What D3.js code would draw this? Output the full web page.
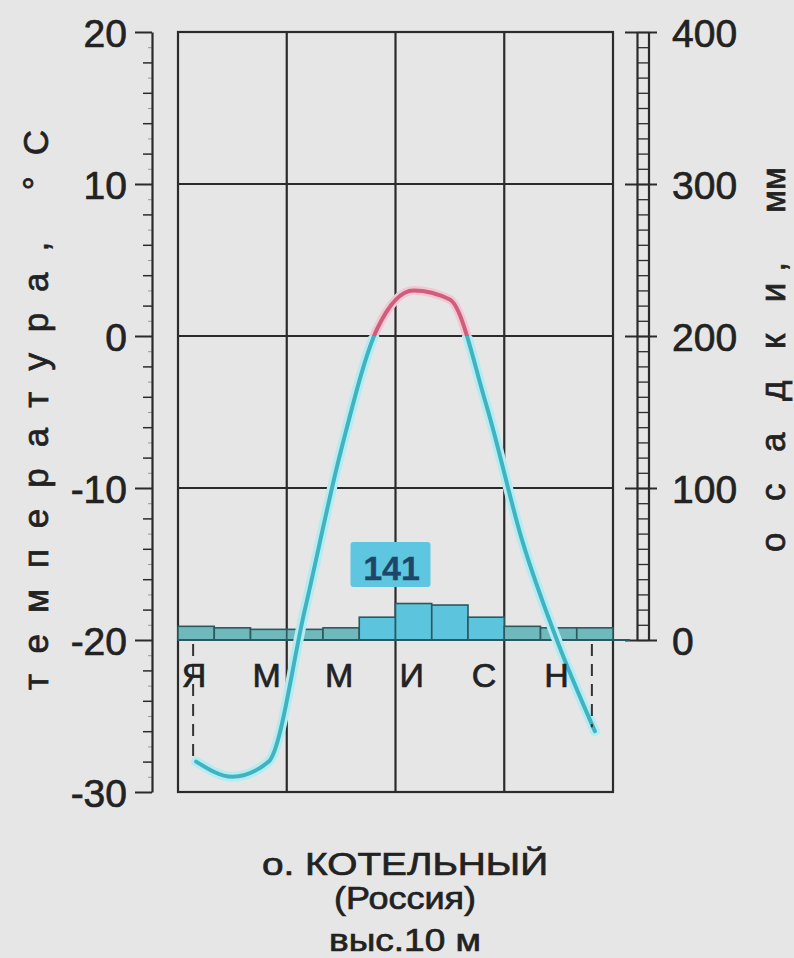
<!DOCTYPE html>
<html>
<head>
<meta charset="utf-8">
<script src="https://cdn.jsdelivr.net/npm/d3@7"></script>
<style>
  html, body { margin: 0; padding: 0; background: #e6e6e6; }
  svg { display: block; }
  text { font-family: "Liberation Sans", Arial, sans-serif; fill: #222; stroke: #222; stroke-width: 0.7px; }
</style>
</head>
<body>
<svg id="chart" width="794" height="958"></svg>
<script>
// ---- data ----
const months = ["Я", "Ф", "М", "А", "М", "И", "И", "А", "С", "О", "Н", "Д"];
const monthLabelIdx = [0, 2, 4, 6, 8, 10];
const temperature = [-28, -29, -28, -18, -7.5, 0.5, 3, 2.4, -4.5, -13.5, -20.3, -26];
const precipitation = [9, 8, 7, 7, 8, 15, 24, 23, 15, 9, 8, 8];
const annualPrecip = "141";
const tempTicks = [20, 10, 0, -10, -20, -30];
const precipTicks = [0, 100, 200, 300, 400];
const station = ["о. КОТЕЛЬНЫЙ", "(Россия)", "выс.10 м"];
const tempTitle = "температура, °С";
const precipTitleA = "о с а д к и,";
const precipTitleB = "мм";

(function () {
// ---- scales ----
const svg = d3.select("#chart");
const pL = 178, pR = 613, pT = 32, pB = 792;
const x = d3.scaleBand().domain(d3.range(12)).range([pL, pR]).padding(0);
const cx = i => x(i) + x.bandwidth() / 2;
const yT = d3.scaleLinear().domain([-30, 20]).range([pB, pT]);
const yP = d3.scaleLinear().domain([0, 400]).range([yT(-20), yT(20)]);
const ink = "#2b2b2b";

// ---- grid / frame ----
const g = svg.append("g");
g.selectAll("line.h").data([10, 0, -10]).join("line")
  .attr("x1", pL).attr("x2", pR)
  .attr("y1", d => yT(d)).attr("y2", d => yT(d))
  .attr("stroke", ink).attr("stroke-width", 2.2);
g.selectAll("line.v").data([3, 6, 9]).join("line")
  .attr("x1", d => x(d)).attr("x2", d => x(d))
  .attr("y1", pT).attr("y2", pB)
  .attr("stroke", ink).attr("stroke-width", 2.2);
g.append("rect").attr("x", pL).attr("y", pT)
  .attr("width", pR - pL).attr("height", pB - pT)
  .attr("fill", "none").attr("stroke", ink).attr("stroke-width", 2.2);

// ---- left axis (temperature) ----
const axL = svg.append("g").attr("transform", "translate(152,0)");
axL.call(d3.axisLeft(yT).tickValues(d3.range(-30, 21, 1).filter(d => d % 2 !== 0))
  .tickSize(4).tickSizeOuter(0).tickFormat(""))
  .call(a => a.selectAll("line").attr("stroke", "#999").attr("stroke-width", 1))
  .call(a => a.select(".domain").remove());
const axLm = svg.append("g").attr("transform", "translate(152,0)");
axLm.call(d3.axisLeft(yT).tickValues(d3.range(-30, 21, 2).filter(d => d % 10 !== 0))
  .tickSize(9).tickSizeOuter(0).tickFormat(""))
  .call(a => a.selectAll("line").attr("stroke", ink).attr("stroke-width", 1.5))
  .call(a => a.select(".domain").remove());
const axL2 = svg.append("g").attr("transform", "translate(152,0)");
axL2.call(d3.axisLeft(yT).tickValues(tempTicks).tickSize(17).tickSizeOuter(0).tickPadding(8)
  .tickFormat(d => d < 0 ? "-" + Math.abs(d) : String(d)))
  .call(a => a.select(".domain").attr("stroke", ink).attr("stroke-width", 2.2))
  .call(a => a.selectAll("line").attr("stroke", ink).attr("stroke-width", 2))
  .call(a => a.selectAll("text").attr("font-size", 39).attr("fill", "#222")
    .attr("font-family", "Liberation Sans, Arial, sans-serif").attr("dy", "0.36em"));

// ---- right axis (precipitation) ----
const axR = svg.append("g").attr("transform", "translate(637,0)");
axR.call(d3.axisRight(yP).tickValues(d3.range(0, 401, 10)).tickSize(12).tickSizeOuter(0).tickFormat(""))
  .call(a => a.selectAll("line").attr("stroke", ink).attr("stroke-width", 1.3))
  .call(a => a.select(".domain").attr("stroke", ink).attr("stroke-width", 2.2));
svg.append("line").attr("x1", 649).attr("x2", 649).attr("y1", yP(0)).attr("y2", yP(400))
  .attr("stroke", ink).attr("stroke-width", 2.2);
const axR2 = svg.append("g").attr("transform", "translate(625,0)");
axR2.call(d3.axisRight(yP).tickValues(precipTicks).tickSize(32).tickSizeOuter(0).tickPadding(15))
  .call(a => a.select(".domain").remove())
  .call(a => a.selectAll("line").attr("stroke", ink).attr("stroke-width", 2))
  .call(a => a.selectAll("text").attr("font-size", 39).attr("fill", "#222")
    .attr("font-family", "Liberation Sans, Arial, sans-serif").attr("dy", "0.36em"));

// ---- precipitation bars ----
svg.append("g").selectAll("rect").data(precipitation).join("rect")
  .attr("x", (d, i) => x(i)).attr("width", x.bandwidth())
  .attr("y", d => yP(d)).attr("height", d => yP(0) - yP(d))
  .attr("fill", d => d >= 12 ? "#5cc4dc" : "#6fb8bc")
  .attr("stroke", "#2c5860").attr("stroke-width", 1.6);
svg.append("line").attr("x1", pL).attr("x2", 630).attr("y1", yP(0)).attr("y2", yP(0))
  .attr("stroke", "#2c5860").attr("stroke-width", 2);

// ---- annual precipitation label ----
const bx = (x(5) + x(7)) / 2 - 5;
svg.append("rect").attr("x", bx - 40).attr("y", 542).attr("width", 80).attr("height", 45)
  .attr("fill", "#5ec6e0").attr("rx", 3);
svg.append("text").attr("x", bx + 1).attr("y", 580).attr("text-anchor", "middle")
  .attr("font-size", 34).attr("font-weight", "bold")
  .style("fill", "#1d4668").style("stroke", "#1d4668").style("stroke-width", "0.3px").text(annualPrecip);

// ---- temperature line ----
const line = d3.line().x((d, i) => cx(i)).y(d => yT(d)).curve(d3.curveMonotoneX);
const defs = svg.append("defs");
defs.append("clipPath").attr("id", "warm").append("rect")
  .attr("x", 0).attr("y", 0).attr("width", 794).attr("height", yT(0));
defs.append("clipPath").attr("id", "cold").append("rect")
  .attr("x", 0).attr("y", yT(0)).attr("width", 794).attr("height", 958);
const cold = svg.append("g").attr("clip-path", "url(#cold)");
cold.append("path").datum(temperature).attr("d", line).attr("fill", "none")
  .attr("stroke", "#b5ecf2").attr("stroke-width", 10).attr("stroke-linecap", "round");
cold.append("path").datum(temperature).attr("d", line).attr("fill", "none")
  .attr("stroke", "#3fb4c0").attr("stroke-width", 4).attr("stroke-linecap", "round");
const warm = svg.append("g").attr("clip-path", "url(#warm)");
warm.append("path").datum(temperature).attr("d", line).attr("fill", "none")
  .attr("stroke", "#f2c6d2").attr("stroke-width", 9);
warm.append("path").datum(temperature).attr("d", line).attr("fill", "none")
  .attr("stroke", "#cf5d7c").attr("stroke-width", 4);

// ---- dashed end markers ----
svg.append("g").selectAll("line").data([0, 11]).join("line")
  .attr("x1", i => cx(i) - 3).attr("x2", i => cx(i) - 3)
  .attr("y1", yP(0) + 4).attr("y2", i => yT(temperature[i]) - 4)
  .attr("stroke", "#333").attr("stroke-width", 2).attr("stroke-dasharray", "12,8");

// ---- month labels ----
svg.append("g").selectAll("text").data(monthLabelIdx).join("text")
  .attr("x", i => cx(i) - 2).attr("y", 687).attr("text-anchor", "middle")
  .attr("font-size", 34).text(i => months[i]);

// ---- axis titles ----
svg.append("text").attr("transform", "translate(48,410) rotate(-90)")
  .attr("text-anchor", "middle").attr("font-size", 35)
  .attr("textLength", 560).attr("lengthAdjust", "spacing").text(tempTitle);
svg.append("text").attr("transform", "translate(785,407) rotate(-90)")
  .attr("text-anchor", "middle").attr("font-size", 35)
  .attr("textLength", 290).attr("lengthAdjust", "spacing").text(precipTitleA);
svg.append("text").attr("transform", "translate(785,190) rotate(-90)")
  .attr("text-anchor", "middle").attr("font-size", 33).text(precipTitleB);

// ---- station title ----
const tl = [[875, 286], [909, 142], [951, 152]];
svg.append("g").selectAll("text").data(station).join("text")
  .attr("x", 405).attr("y", (d, i) => tl[i][0]).attr("text-anchor", "middle")
  .attr("font-size", 32).attr("textLength", (d, i) => tl[i][1])
  .attr("lengthAdjust", "spacingAndGlyphs").text(d => d);
})();
</script>
</body>
</html>
